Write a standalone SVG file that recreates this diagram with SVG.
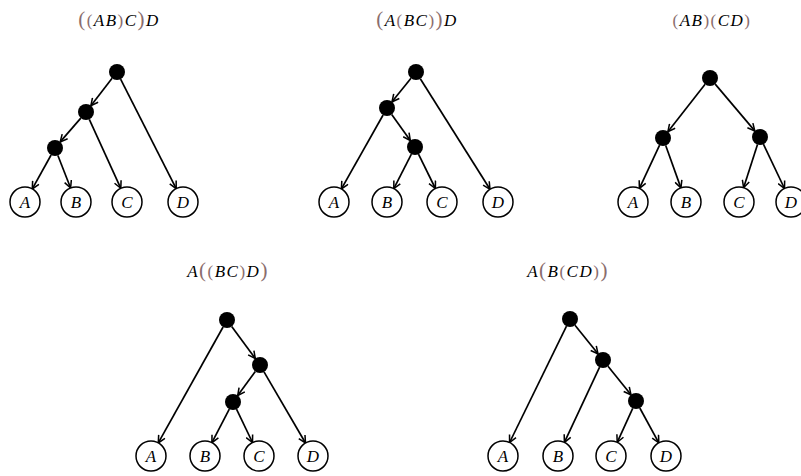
<svg xmlns="http://www.w3.org/2000/svg" width="801" height="476" viewBox="0 0 801 476">
<style>
.t{font-family:"Liberation Serif","DejaVu Serif",serif;font-size:17px;font-style:italic;fill:#000;letter-spacing:1.5px}
.p{font-style:normal;fill:#8a6d6d}
.P{font-style:normal;fill:#8a6d6d;font-size:21px}
.dot{fill:#000}
.leaf circle{fill:#fff;stroke:#000;stroke-width:1.5}
.leaf text{font-family:"Liberation Serif","DejaVu Serif",serif;font-size:17px;font-style:italic;text-anchor:middle;fill:#000}
.e line{stroke:#000;stroke-width:1.7;marker-end:url(#ar)}
</style>
<defs>
<marker id="ar" viewBox="0 0 10 10" refX="9" refY="5" markerWidth="9" markerHeight="9" markerUnits="userSpaceOnUse" orient="auto">
<path d="M1,1 L9,5 L1,9" fill="none" stroke="#000" stroke-width="1.7"/>
</marker>
</defs>

<g id="titles">
<text class="t" x="119" y="26" text-anchor="middle"><tspan class="P">(</tspan><tspan class="p">(</tspan>AB<tspan class="p">)</tspan>C<tspan class="P">)</tspan>D</text>
<text class="t" x="417" y="26" text-anchor="middle"><tspan class="P">(</tspan>A<tspan class="p">(</tspan>BC<tspan class="p">)</tspan><tspan class="P">)</tspan>D</text>
<text class="t" x="712" y="26" text-anchor="middle"><tspan class="p">(</tspan>AB<tspan class="p">)(</tspan>CD<tspan class="p">)</tspan></text>
<text class="t" x="228" y="277" text-anchor="middle">A<tspan class="P">(</tspan><tspan class="p">(</tspan>BC<tspan class="p">)</tspan>D<tspan class="P">)</tspan></text>
<text class="t" x="568" y="277" text-anchor="middle">A<tspan class="P">(</tspan>B<tspan class="p">(</tspan>CD<tspan class="p">)</tspan><tspan class="P">)</tspan></text>
</g>

<g id="connectors" class="e">
<line x1="112.1" y1="78.3" x2="90.9" y2="105.7"/>
<line x1="120.6" y1="79.1" x2="176.2" y2="188.6"/>
<line x1="80.8" y1="118.1" x2="60.2" y2="141.9"/>
<line x1="89.3" y1="119.3" x2="120.8" y2="188.3"/>
<line x1="51.1" y1="155" x2="32.3" y2="188.9"/>
<line x1="57.9" y1="155.5" x2="70.6" y2="188"/>

<line x1="411" y1="78.2" x2="392" y2="101.8"/>
<line x1="420.3" y1="78.8" x2="490" y2="189.3"/>
<line x1="383.1" y1="115" x2="341.4" y2="188.9"/>
<line x1="391.7" y1="114.5" x2="410.3" y2="140.5"/>
<line x1="411.4" y1="154.1" x2="393.8" y2="188.6"/>
<line x1="418.5" y1="154.2" x2="435.4" y2="188.5"/>

<line x1="705.1" y1="84.3" x2="667.9" y2="131.7"/>
<line x1="715.2" y1="84.1" x2="754.8" y2="130.9"/>
<line x1="659.6" y1="145.2" x2="639.4" y2="188.4"/>
<line x1="665.7" y1="145.5" x2="680.9" y2="187.9"/>
<line x1="757.5" y1="144.6" x2="743.6" y2="187.7"/>
<line x1="763.4" y1="144.2" x2="784.5" y2="188.5"/>

<line x1="223.1" y1="327" x2="158.3" y2="442.9"/>
<line x1="231.7" y1="326.5" x2="255.3" y2="358.5"/>
<line x1="255.3" y1="371.5" x2="237.7" y2="395.5"/>
<line x1="264" y1="371.9" x2="305.5" y2="443"/>
<line x1="229.3" y1="409.1" x2="211.9" y2="442.7"/>
<line x1="236.5" y1="409.2" x2="252.5" y2="442.5"/>

<line x1="566.5" y1="326.2" x2="509.6" y2="442.5"/>
<line x1="575" y1="325.2" x2="598" y2="353.8"/>
<line x1="599.6" y1="367.2" x2="564.4" y2="442.4"/>
<line x1="608" y1="366.2" x2="631" y2="394.8"/>
<line x1="632.7" y1="408.3" x2="617.2" y2="442.3"/>
<line x1="639.8" y1="408" x2="658.8" y2="442.8"/>
</g>

<g id="t1-root"><circle class="dot" cx="117" cy="72" r="8"/></g>
<g id="t1-ab-c"><circle class="dot" cx="86" cy="112" r="8"/></g>
<g id="t1-ab"><circle class="dot" cx="55" cy="148" r="8"/></g>
<g id="t1-A" class="leaf"><circle cx="25" cy="202" r="15"/><text x="25" y="208">A</text></g>
<g id="t1-B" class="leaf"><circle cx="76" cy="202" r="15"/><text x="76" y="208">B</text></g>
<g id="t1-C" class="leaf"><circle cx="127" cy="202" r="15"/><text x="127" y="208">C</text></g>
<g id="t1-D" class="leaf"><circle cx="183" cy="202" r="15"/><text x="183" y="208">D</text></g>

<g id="t2-root"><circle class="dot" cx="416" cy="72" r="8"/></g>
<g id="t2-a-bc"><circle class="dot" cx="387" cy="108" r="8"/></g>
<g id="t2-bc"><circle class="dot" cx="415" cy="147" r="8"/></g>
<g id="t2-A" class="leaf"><circle cx="334" cy="202" r="15"/><text x="334" y="208">A</text></g>
<g id="t2-B" class="leaf"><circle cx="387" cy="202" r="15"/><text x="387" y="208">B</text></g>
<g id="t2-C" class="leaf"><circle cx="442" cy="202" r="15"/><text x="442" y="208">C</text></g>
<g id="t2-D" class="leaf"><circle cx="498" cy="202" r="15"/><text x="498" y="208">D</text></g>

<g id="t3-root"><circle class="dot" cx="710" cy="78" r="8"/></g>
<g id="t3-ab"><circle class="dot" cx="663" cy="138" r="8"/></g>
<g id="t3-cd"><circle class="dot" cx="760" cy="137" r="8"/></g>
<g id="t3-A" class="leaf"><circle cx="633" cy="202" r="15"/><text x="633" y="208">A</text></g>
<g id="t3-B" class="leaf"><circle cx="686" cy="202" r="15"/><text x="686" y="208">B</text></g>
<g id="t3-C" class="leaf"><circle cx="739" cy="202" r="15"/><text x="739" y="208">C</text></g>
<g id="t3-D" class="leaf"><circle cx="791" cy="202" r="15"/><text x="791" y="208">D</text></g>

<g id="t4-root"><circle class="dot" cx="227" cy="320" r="8"/></g>
<g id="t4-bc-d"><circle class="dot" cx="260" cy="365" r="8"/></g>
<g id="t4-bc"><circle class="dot" cx="233" cy="402" r="8"/></g>
<g id="t4-A" class="leaf"><circle cx="151" cy="456" r="15"/><text x="151" y="462">A</text></g>
<g id="t4-B" class="leaf"><circle cx="205" cy="456" r="15"/><text x="205" y="462">B</text></g>
<g id="t4-C" class="leaf"><circle cx="259" cy="456" r="15"/><text x="259" y="462">C</text></g>
<g id="t4-D" class="leaf"><circle cx="313" cy="456" r="15"/><text x="313" y="462">D</text></g>

<g id="t5-root"><circle class="dot" cx="570" cy="319" r="8"/></g>
<g id="t5-b-cd"><circle class="dot" cx="603" cy="360" r="8"/></g>
<g id="t5-cd"><circle class="dot" cx="636" cy="401" r="8"/></g>
<g id="t5-A" class="leaf"><circle cx="503" cy="456" r="15"/><text x="503" y="462">A</text></g>
<g id="t5-B" class="leaf"><circle cx="558" cy="456" r="15"/><text x="558" y="462">B</text></g>
<g id="t5-C" class="leaf"><circle cx="611" cy="456" r="15"/><text x="611" y="462">C</text></g>
<g id="t5-D" class="leaf"><circle cx="666" cy="456" r="15"/><text x="666" y="462">D</text></g>
</svg>
